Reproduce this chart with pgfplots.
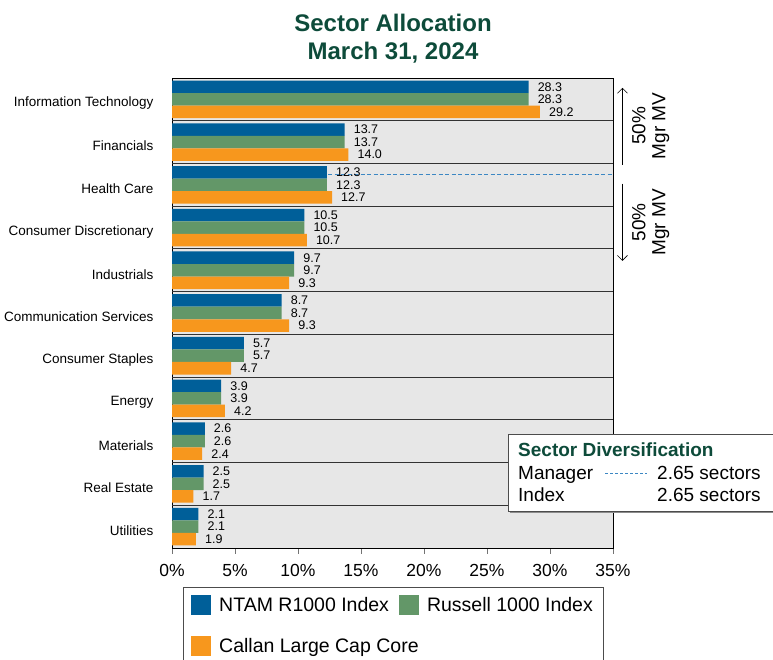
\documentclass[border=0pt]{standalone}
\usepackage{pgfplots}
\pgfplotsset{compat=1.18}
\usepackage{pgfplotstable}
\usepackage{fontspec}
\setmainfont{Liberation Sans}
\usetikzlibrary{arrows.meta}

\definecolor{ntam}{RGB}{0,95,153}
\definecolor{russ}{RGB}{99,151,104}
\definecolor{callan}{RGB}{247,151,29}
\definecolor{bandgray}{RGB}{231,231,231}
\definecolor{titlegreen}{RGB}{13,75,58}
\definecolor{dashblue}{RGB}{60,135,195}

% pos: 10 = top category (Information Technology)
\pgfplotstableread{
pos ntam russ callan
10 28.3 28.3 29.2
9  13.7 13.7 14.0
8  12.3 12.3 12.7
7  10.5 10.5 10.7
6  9.7  9.7  9.3
5  8.7  8.7  9.3
4  5.7  5.7  4.7
3  3.9  3.9  4.2
2  2.6  2.6  2.4
1  2.5  2.5  1.7
0  2.1  2.1  1.9
}\sectors

\begin{document}
\begin{tikzpicture}
\useasboundingbox (0,0) rectangle (773pt,660pt);

% title
\node[anchor=base, font=\fontsize{24}{26}\selectfont\bfseries, text=titlegreen] at (393pt,628pt) {Sector Allocation};
\node[anchor=base, font=\fontsize{24}{26}\selectfont\bfseries, text=titlegreen] at (393pt,600pt) {March 31, 2024};

\begin{axis}[
    at={(172pt,112pt)}, anchor=south west,
    width=441pt, height=470pt, scale only axis,
    clip=false,
    xbar, bar width=0.293,
    xmin=0, xmax=35, ymin=-0.5, ymax=10.5,
    axis background/.style={fill=bandgray},
    axis line style={black, line width=0.8pt},
    /pgf/number format/assume math mode=true,
    xtick={0,5,...,35},
    xticklabel={\pgfmathprintnumber{\tick}\%},
    xtick pos=left, tick align=outside,
    major tick length=6pt,
    x tick style={black!55, line width=0.8pt},
    xticklabel style={font=\fontsize{17.5}{20}\selectfont, yshift=-7pt},
    ytick={0,...,10},
    yticklabels={Utilities, Real Estate, Materials, Energy, Consumer Staples,
        Communication Services, Industrials, Consumer Discretionary,
        Health Care, Financials, Information Technology},
    y tick style={draw=none},
    yticklabel style={font=\fontsize{13.5}{15}\selectfont, xshift=-9pt, yshift=-4pt},
    point meta=x,
    nodes near coords={\pgfmathprintnumber[fixed,fixed zerofill,precision=1]{\pgfplotspointmeta}},
    every node near coord/.append style={anchor=west, inner sep=0pt, xshift=9pt,
        font=\fontsize{12.5}{13}\selectfont, text=black},
    legend style={at={(0.025,-0.083)}, anchor=north west, draw=black!70,
        fill=white, font=\fontsize{19.5}{22}\selectfont, legend columns=2,
        inner xsep=8pt, inner ysep=8pt, row sep=21pt,
        /tikz/every odd column/.append style={column sep=6pt},
        /tikz/every even column/.append style={column sep=8pt}},
    legend cell align=left,
    legend image code/.code={\fill[#1] (0pt,-10pt) rectangle (20pt,10pt);},
]
% category separators
\pgfplotsinvokeforeach{0.5,1.5,2.5,3.5,4.5,5.5,6.5,7.5,8.5,9.5}{
    \draw[black!80, line width=0.9pt] (axis cs:0,#1) -- (axis cs:35,#1);
}

\addplot[fill=ntam, draw=none, bar shift=0.293] table[x=ntam, y=pos] {\sectors};
\addplot[fill=russ, draw=none, bar shift=0] table[x=russ, y=pos] {\sectors};
\addplot[fill=callan, draw=none, bar shift=-0.293] table[x=callan, y=pos] {\sectors};
\legend{NTAM R1000 Index, Russell 1000 Index, \makebox[0pt][l]{Callan Large Cap Core}}

% manager 50% market value line
\draw[dashblue, line width=1pt, dash pattern=on 4pt off 2.5pt] (axis cs:12.4,8.23) -- (axis cs:35,8.23);

% 50% arrows
\draw[{Straight Barb[length=5pt,width=10pt]}-, line width=0.6pt] (axis cs:35.75,10.27) -- (axis cs:35.75,8.46);
\draw[-{Straight Barb[length=5pt,width=10pt]}, line width=0.6pt] (axis cs:35.75,8.03) -- (axis cs:35.75,6.22);
\node[rotate=90, align=center, font=\fontsize{19}{20}\selectfont] at (axis cs:38.0,9.38) {50\%\\Mgr MV};
\node[rotate=90, align=center, font=\fontsize{19}{20}\selectfont] at (axis cs:38.0,7.12) {50\%\\Mgr MV};
\end{axis}

% sector diversification box
\fill[black!45] (510pt,147pt) rectangle (792pt,224pt);
\draw[black!70, fill=white, line width=0.8pt] (508pt,149pt) rectangle (790pt,226pt);
\node[anchor=base west, inner sep=0pt, font=\fontsize{19}{21}\selectfont\bfseries, text=titlegreen] at (518pt,203pt) {Sector Diversification};
\node[anchor=base west, inner sep=0pt, font=\fontsize{19}{21}\selectfont] at (518pt,180pt) {Manager};
\node[anchor=base west, inner sep=0pt, font=\fontsize{19}{21}\selectfont] at (518pt,158pt) {Index};
\draw[dashblue, line width=1pt, dash pattern=on 3pt off 2pt] (605pt,186pt) -- (647pt,186pt);
\node[anchor=base west, inner sep=0pt, font=\fontsize{19}{21}\selectfont] at (657pt,180pt) {2.65 sectors};
\node[anchor=base west, inner sep=0pt, font=\fontsize{19}{21}\selectfont] at (657pt,158pt) {2.65 sectors};
\end{tikzpicture}
\end{document}
